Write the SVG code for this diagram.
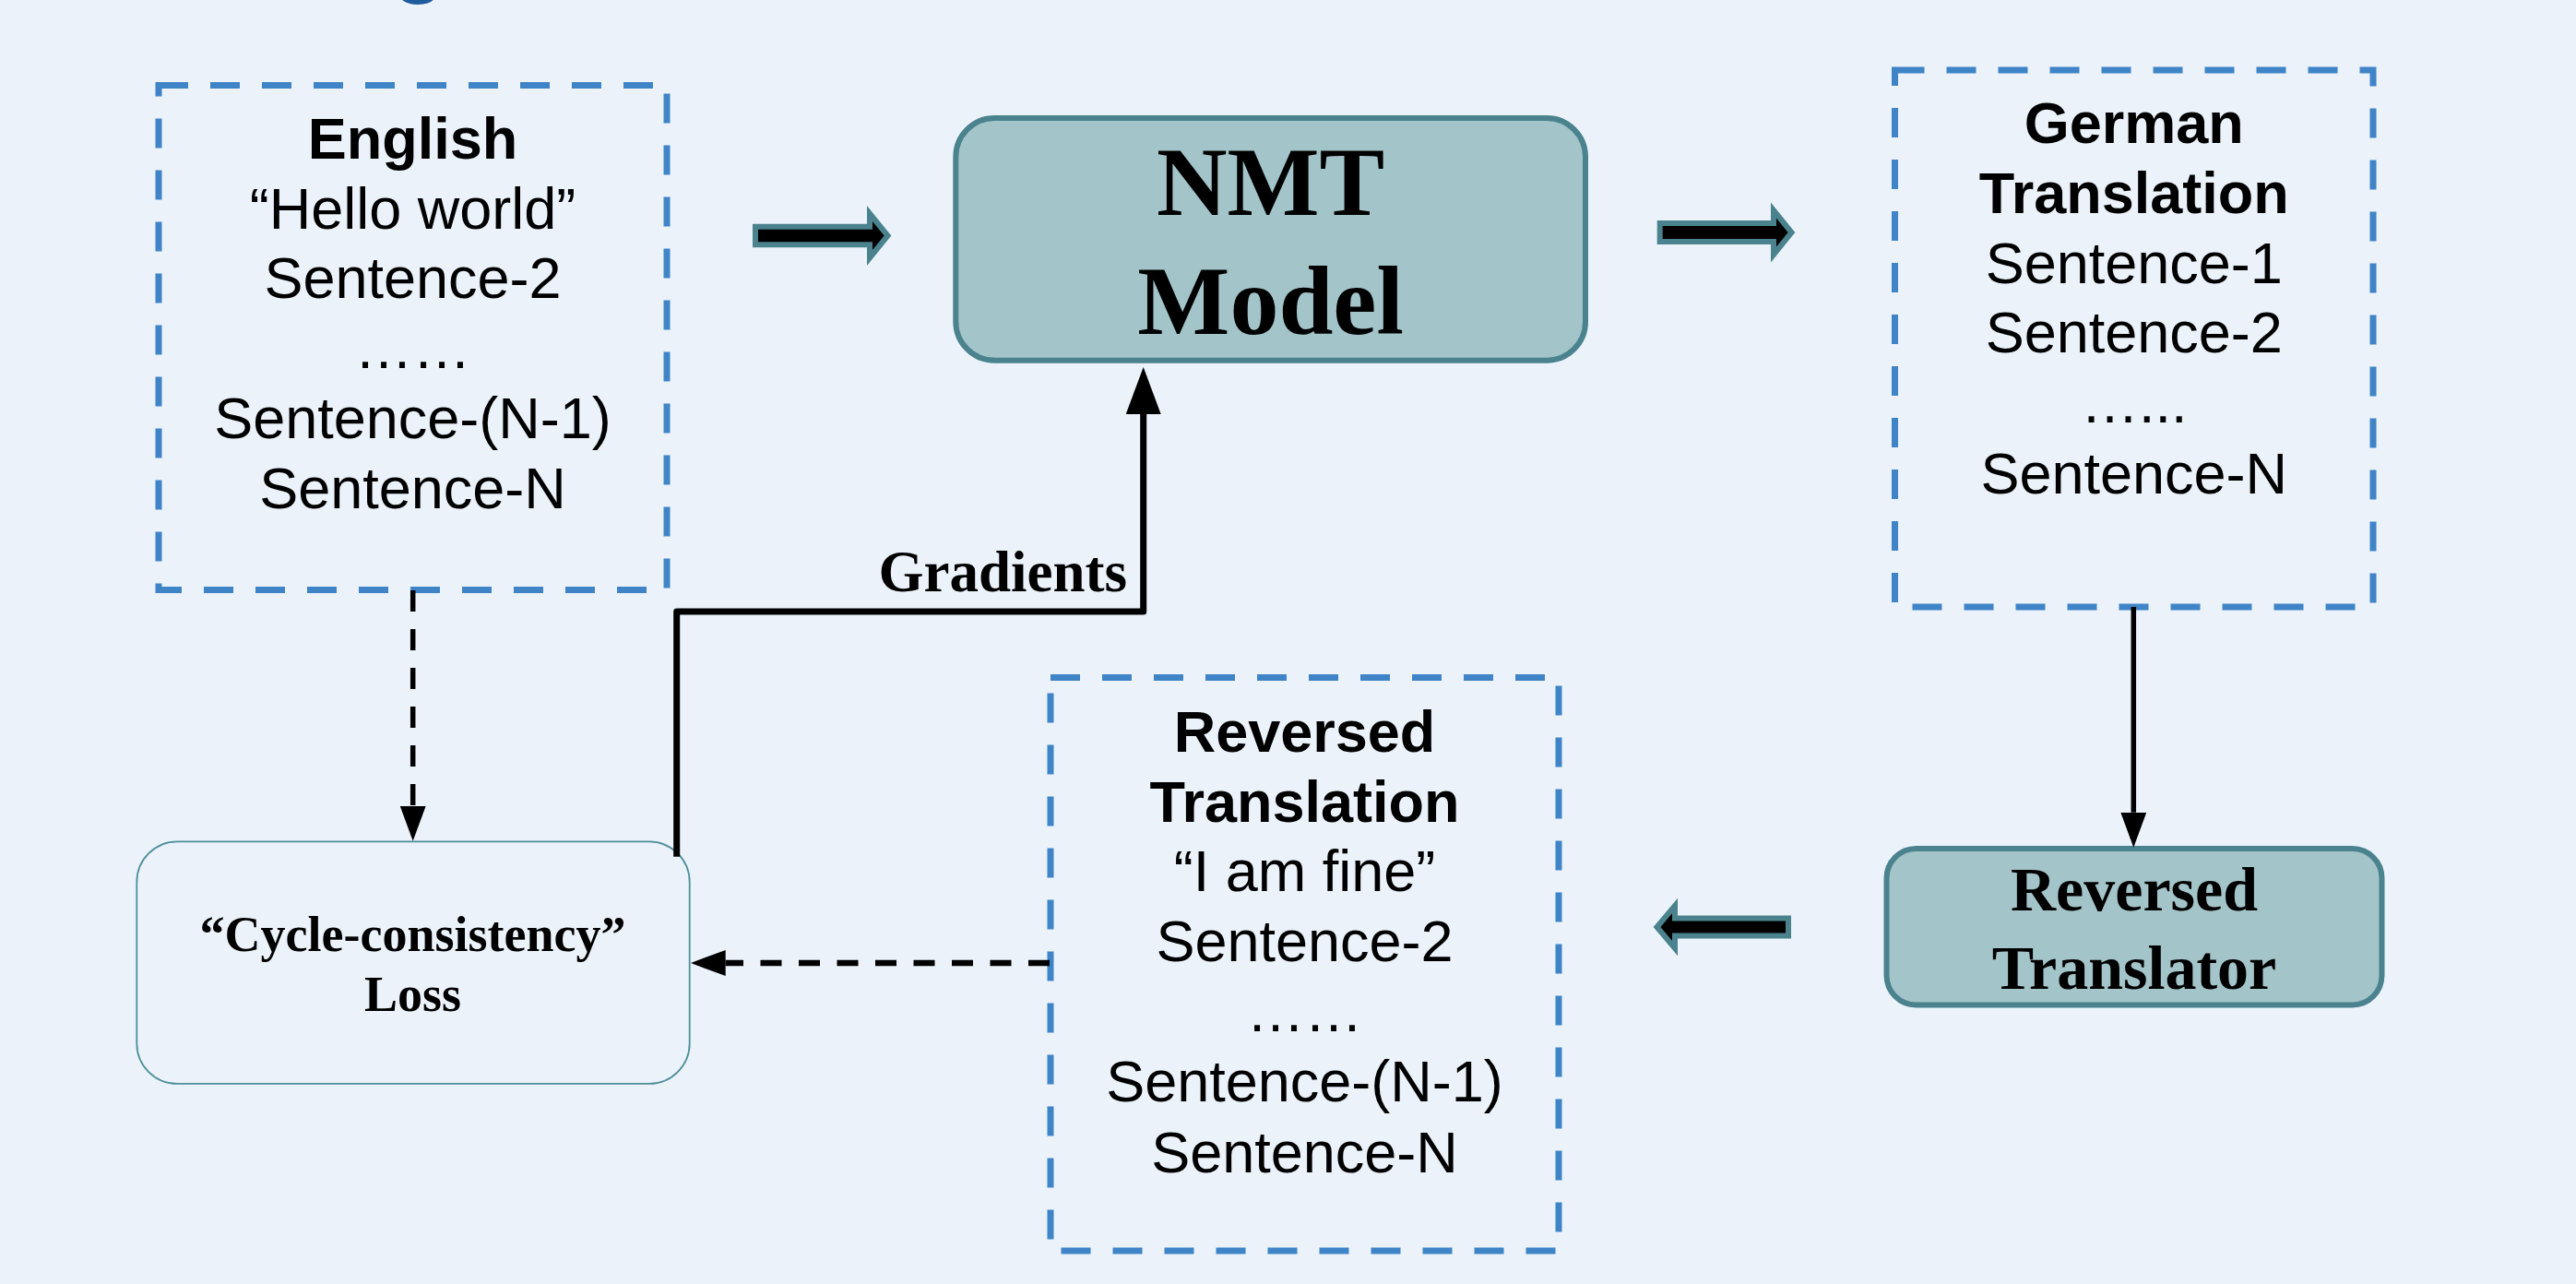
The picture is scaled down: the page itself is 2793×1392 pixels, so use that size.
<svg xmlns="http://www.w3.org/2000/svg" width="2793" height="1392" viewBox="0 0 2793 1392">
  <style>
    .bg { fill: #EBF2FA; }
    .dashbox { fill: none; stroke: #3F84C7; stroke-width: 7; stroke-dasharray: 32 24; }
    .model { fill: #A3C4C9; stroke: #4A828D; stroke-width: 6; }
    .lossbox { fill: #EBF2FA; stroke: #4E8F9A; stroke-width: 1.8; }
    .sans { font-family: 'Liberation Sans', Arial, sans-serif; font-size: 63px; fill: #000; text-anchor: middle; }
    .bold { font-weight: bold; }
    .serif { font-family: 'Liberation Serif', 'Times New Roman', serif; font-weight: bold; fill: #000; text-anchor: middle; }
    .block { fill: #000; stroke: #4A828D; stroke-width: 6; stroke-linejoin: miter; }
    .conn { fill: none; stroke: #000; }
    .dash-thin { stroke-width: 5.5; stroke-dasharray: 23 19; }
    .dash-thick { stroke-width: 6.5; stroke-dasharray: 23 18.5; }
  </style>
  <defs>
    <marker id="head-small" markerUnits="userSpaceOnUse" markerWidth="38" markerHeight="28" refX="0" refY="14" orient="auto">
      <path d="M0,0 L38,14 L0,28 Z" fill="#000"/>
    </marker>
    <marker id="head-large" markerUnits="userSpaceOnUse" markerWidth="51" markerHeight="38" refX="0" refY="19" orient="auto">
      <path d="M0,0 L51,19 L0,38 Z" fill="#000"/>
    </marker>
  </defs>

  <rect class="bg" x="0" y="0" width="2793" height="1392"/>

  <!-- descender of the heading cut off at the top edge -->
  <text x="454" y="-18" font-family="'Liberation Sans', Arial, sans-serif" font-size="110" fill="#1F5C9E" text-anchor="middle">g</text>

  <!-- source sentences -->
  <g id="english">
    <rect class="dashbox" x="172" y="92.5" width="551" height="547"/>
    <text class="sans bold" x="447.5" y="171.7">English</text>
    <text class="sans" x="447.5" y="247.5">“Hello world”</text>
    <text class="sans" x="447.5" y="323.3">Sentence-2</text>
    <text class="sans" x="447.5" y="399">……</text>
    <text class="sans" x="447.5" y="475">Sentence-(N-1)</text>
    <text class="sans" x="447.5" y="551">Sentence-N</text>
  </g>

  <!-- forward model -->
  <g id="nmt-model">
    <rect class="model" x="1036.3" y="128" width="682.7" height="262.7" rx="42" ry="42"/>
    <text class="serif" x="1377.6" y="233.3" font-size="106">NMT</text>
    <text class="serif" x="1377.6" y="361.7" font-size="106">Model</text>
  </g>

  <!-- forward output -->
  <g id="german">
    <rect class="dashbox" x="2054.5" y="76" width="518.5" height="582"/>
    <text class="sans bold" x="2313.75" y="154.9">German</text>
    <text class="sans bold" x="2313.75" y="230.8">Translation</text>
    <text class="sans" x="2313.75" y="307.1">Sentence-1</text>
    <text class="sans" x="2313.75" y="382.3">Sentence-2</text>
    <text class="sans" x="2313.75" y="458">…...</text>
    <text class="sans" x="2313.75" y="534.5">Sentence-N</text>
  </g>

  <!-- backward model -->
  <g id="reversed-translator">
    <rect class="model" x="2045.5" y="920" width="537" height="169.5" rx="32" ry="32"/>
    <text class="serif" x="2314" y="987" font-size="68">Reversed</text>
    <text class="serif" x="2314" y="1071.7" font-size="68">Translator</text>
  </g>

  <!-- reconstructed sentences -->
  <g id="reversed-translation">
    <rect class="dashbox" x="1139" y="734.5" width="551" height="621.5"/>
    <text class="sans bold" x="1414.5" y="814.5">Reversed</text>
    <text class="sans bold" x="1414.5" y="890.5">Translation</text>
    <text class="sans" x="1414.5" y="966">“I am fine”</text>
    <text class="sans" x="1414.5" y="1042">Sentence-2</text>
    <text class="sans" x="1414.5" y="1118">……</text>
    <text class="sans" x="1414.5" y="1194">Sentence-(N-1)</text>
    <text class="sans" x="1414.5" y="1270.5">Sentence-N</text>
  </g>

  <!-- loss -->
  <g id="cycle-loss">
    <rect class="lossbox" x="148.3" y="912.3" width="599.4" height="262.6" rx="44" ry="44"/>
    <text class="serif" x="447.5" y="1030.5" font-size="54">“Cycle-consistency”</text>
    <text class="serif" x="447.5" y="1096" font-size="54">Loss</text>
  </g>

  <g id="connectors">
    <!-- block arrows -->
    <polygon class="block" points="819,245.7 943,245.7 943,231.5 962.5,255.5 943,279.5 943,265.3 819,265.3"/>
    <polygon class="block" points="1799.7,242 1923,242 1923,228 1942.5,252 1923,276 1923,262 1799.7,262"/>
    <polygon class="block" points="1939,995.5 1816,995.5 1816,982 1796.5,1005 1816,1028 1816,1014.5 1939,1014.5"/>

    <!-- German translation to reversed translator -->
    <path class="conn" d="M2313.3,658 V880.7" stroke-width="5.5" marker-end="url(#head-small)"/>

    <!-- English reference to loss -->
    <path class="conn dash-thin" d="M447.7,640 V873.7" marker-end="url(#head-small)"/>

    <!-- reversed translation to loss -->
    <path class="conn dash-thick" d="M1138,1044 H786.7" marker-end="url(#head-small)"/>

    <!-- gradients back to the model -->
    <path class="conn" d="M733.7,928.7 V663 H1239.7 V449" stroke-width="7" stroke-linejoin="round" marker-end="url(#head-large)"/>
    <text class="serif" x="1222" y="640.5" font-size="63" style="text-anchor:end">Gradients</text>
  </g>
</svg>
